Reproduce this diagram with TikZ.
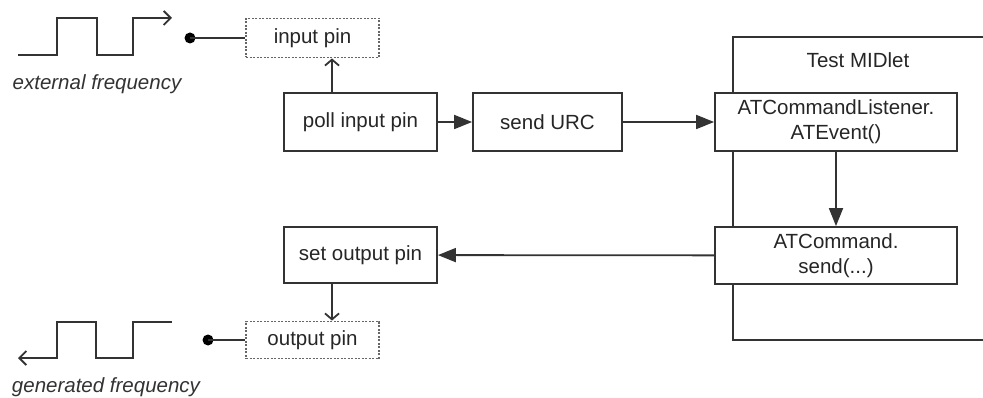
\documentclass[tikz,border=0pt]{standalone}
\usepackage{fontspec}
\setmainfont{Liberation Sans}
\usetikzlibrary{arrows.meta}
\begin{document}
\begin{tikzpicture}[x=1pt,y=-1pt,
  ln/.style={draw=black!80,line width=1.8pt},
  box/.style={ln,fill=white,inner sep=0pt,align=center,font=\fontsize{20.5}{25}\selectfont,text=black!85},
  pinbox/.style={draw=black!60,line width=1.8pt,dash pattern=on 2pt off 1.5pt,fill=white,inner sep=0pt,font=\fontsize{20.5}{25}\selectfont,text=black!85},
  lbl/.style={inner sep=0pt,font=\fontsize{20.5}{25}\selectfont\itshape,text=black!80},
  solid arrow/.style={ln,-{Triangle[length=18pt,width=14pt]}},
  open arrow/.style={ln,-{Straight Barb[length=6pt,width=14pt]}},
  dot/.style={circle,fill=black,inner sep=0pt,minimum size=11pt}]
\useasboundingbox (0,0) rectangle (983,398);
\fill[white] (0,0) rectangle (983,398);

% Test MIDlet frame
\draw[ln] (983,37) -- (733,37) -- (733,340) -- (983,340);
\node[inner sep=0pt,font=\fontsize{20.5}{25}\selectfont,text=black!85] (title) at (858,60) {Test MIDlet};

% boxes
\node[pinbox,minimum width=133pt,minimum height=39pt] (inpin) at (312.5,38) {input pin};
\node[box,minimum width=153pt,minimum height=58pt] (poll) at (360.5,122) {poll input pin};
\node[box,minimum width=149pt,minimum height=58pt] (urc) at (547.5,122) {send URC};
\node[box,minimum width=242pt,minimum height=58pt] (atl) at (836,122) {ATCommandListener.\\ATEvent()};
\node[box,minimum width=242pt,minimum height=57pt] (atc) at (836,255.5) {ATCommand.\\send(...)};
\node[box,minimum width=153pt,minimum height=56pt] (setout) at (360.5,255) {set output pin};
\node[pinbox,minimum width=133pt,minimum height=37pt] (outpin) at (312.5,340) {output pin};

% dots
\node[dot] (d1) at (190,38) {};
\node[dot] (d2) at (208,340) {};
\draw[ln] (d1.center) -- (inpin.west);
\draw[ln] (d2.center) -- (outpin.west);

% connectors
\draw[open arrow] ([xshift=-28.5pt]poll.north) -- ([xshift=-28.5pt]poll.north |- inpin.south);
\draw[solid arrow] (poll) -- (urc);
\draw[solid arrow] (urc) -- (atl);
\draw[solid arrow] (atl) -- (atc);
\draw[solid arrow] (atc) -- (setout);
\draw[open arrow] ([xshift=-28.5pt]setout.south) -- ([xshift=-28.5pt]setout.south |- outpin.north);

% square waves
\draw[ln,-{Straight Barb[length=7pt,width=14pt]}] (18,55) -- (57,55) -- (57,18) -- (97,18) -- (97,55) -- (133,55) -- (133,18) -- (172,18);
\draw[ln,{Straight Barb[length=7pt,width=14pt]}-] (18,358) -- (57,358) -- (57,322) -- (96,322) -- (96,358) -- (133,358) -- (133,322) -- (172,322);

\node[lbl] (ext) at (97,84) {external frequency};
\node[lbl] (gen) at (106,387) {generated frequency};
\end{tikzpicture}
\end{document}
